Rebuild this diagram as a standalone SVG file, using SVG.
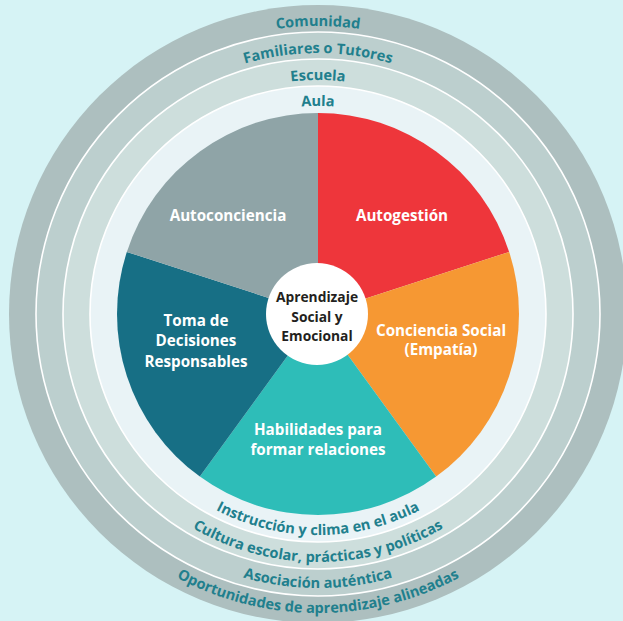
<svg xmlns="http://www.w3.org/2000/svg" xmlns:xlink="http://www.w3.org/1999/xlink" width="623" height="621" viewBox="0 0 623 621">
<style>
.ring-line{fill:none;stroke:#ffffff;stroke-width:1.6}
.rt{font-family:"Open Sans","Noto Sans","Liberation Sans",sans-serif;font-weight:700;font-size:14.6px;fill:#217f8d}
.pl{font-family:"Open Sans","Noto Sans","Liberation Sans",sans-serif;font-weight:700;font-size:15.2px;fill:#ffffff;text-anchor:middle}
.cl{font-family:"Open Sans","Noto Sans","Liberation Sans",sans-serif;font-weight:700;font-size:13.8px;fill:#231f20;text-anchor:middle}
</style>
<defs>
<path id="tComunidad" d="M30,314 A288,288 0 0 1 606,314"/>
<path id="tFamiliares" d="M57,314 A261,261 0 0 1 579,314"/>
<path id="tEscuela" d="M84,314 A234,234 0 0 1 552,314"/>
<path id="tAula" d="M110,314 A208,208 0 0 1 526,314"/>
<path id="bAula" d="M97,314 A221,221 0 0 0 539,314"/>
<path id="bEscuela" d="M70,314 A248,248 0 0 0 566,314"/>
<path id="bFamiliares" d="M44,314 A274,274 0 0 0 592,314"/>
<path id="bComunidad" d="M19,314 A299,299 0 0 0 617,314"/>
</defs>
<rect width="623" height="621" fill="#d6f3f5"/>
<g id="ring-comunidad">
<circle cx="318" cy="314" r="309" fill="#adbfbf"/>
</g>
<g id="ring-familiares">
<circle cx="318" cy="314" r="282" fill="#bccfce"/>
<circle class="ring-line" cx="318" cy="314" r="282"/>
</g>
<g id="ring-escuela">
<circle cx="318" cy="314" r="255" fill="#cddedc"/>
<circle class="ring-line" cx="318" cy="314" r="255"/>
</g>
<g id="ring-aula">
<circle cx="318" cy="314" r="228" fill="#e9f3f6"/>
<circle class="ring-line" cx="318" cy="314" r="228"/>
</g>
<g id="ring-labels">
<text class="rt"><textPath xlink:href="#tComunidad" href="#tComunidad" startOffset="50%" text-anchor="middle">Comunidad</textPath></text>
<text class="rt"><textPath xlink:href="#tFamiliares" href="#tFamiliares" startOffset="50%" text-anchor="middle">Familiares o Tutores</textPath></text>
<text class="rt"><textPath xlink:href="#tEscuela" href="#tEscuela" startOffset="50%" text-anchor="middle">Escuela</textPath></text>
<text class="rt"><textPath xlink:href="#tAula" href="#tAula" startOffset="50%" text-anchor="middle">Aula</textPath></text>
<text class="rt"><textPath xlink:href="#bAula" href="#bAula" startOffset="50%" text-anchor="middle">Instrucción y clima en el aula</textPath></text>
<text class="rt"><textPath xlink:href="#bEscuela" href="#bEscuela" startOffset="50%" text-anchor="middle">Cultura escolar, prácticas y políticas</textPath></text>
<text class="rt"><textPath xlink:href="#bFamiliares" href="#bFamiliares" startOffset="50%" text-anchor="middle">Asociación auténtica</textPath></text>
<text class="rt"><textPath xlink:href="#bComunidad" href="#bComunidad" startOffset="50%" text-anchor="middle">Oportunidades de aprendizaje alineadas</textPath></text>
</g>
<g id="autogestion">
<path d="M318,314 L318,113 A201,201 0 0 1 509.16,251.89 Z" fill="#ee363b"/>
<text class="pl" x="402" y="221">Autogestión</text>
</g>
<g id="conciencia-social">
<path d="M318,314 L509.16,251.89 A201,201 0 0 1 436.14,476.61 Z" fill="#f69833"/>
<text class="pl" x="441" y="336">Conciencia Social</text>
<text class="pl" x="441" y="355">(Empatía)</text>
</g>
<g id="habilidades">
<path d="M318,314 L436.14,476.61 A201,201 0 0 1 199.86,476.61 Z" fill="#2ebdb8"/>
<text class="pl" x="318" y="435">Habilidades para</text>
<text class="pl" x="318" y="455">formar relaciones</text>
</g>
<g id="toma-decisiones">
<path d="M318,314 L199.86,476.61 A201,201 0 0 1 126.84,251.89 Z" fill="#176f85"/>
<text class="pl" x="196" y="326">Toma de</text>
<text class="pl" x="196" y="346">Decisiones</text>
<text class="pl" x="196" y="367">Responsables</text>
</g>
<g id="autoconciencia">
<path d="M318,314 L126.84,251.89 A201,201 0 0 1 318,113 Z" fill="#8fa4a7"/>
<text class="pl" x="228" y="221">Autoconciencia</text>
</g>
<g id="centro">
<circle cx="317" cy="314" r="51" fill="#ffffff"/>
<text class="cl" x="317" y="302">Aprendizaje</text>
<text class="cl" x="317" y="322">Social y</text>
<text class="cl" x="317" y="341">Emocional</text>
</g>
<g id="connectors"/>
</svg>
